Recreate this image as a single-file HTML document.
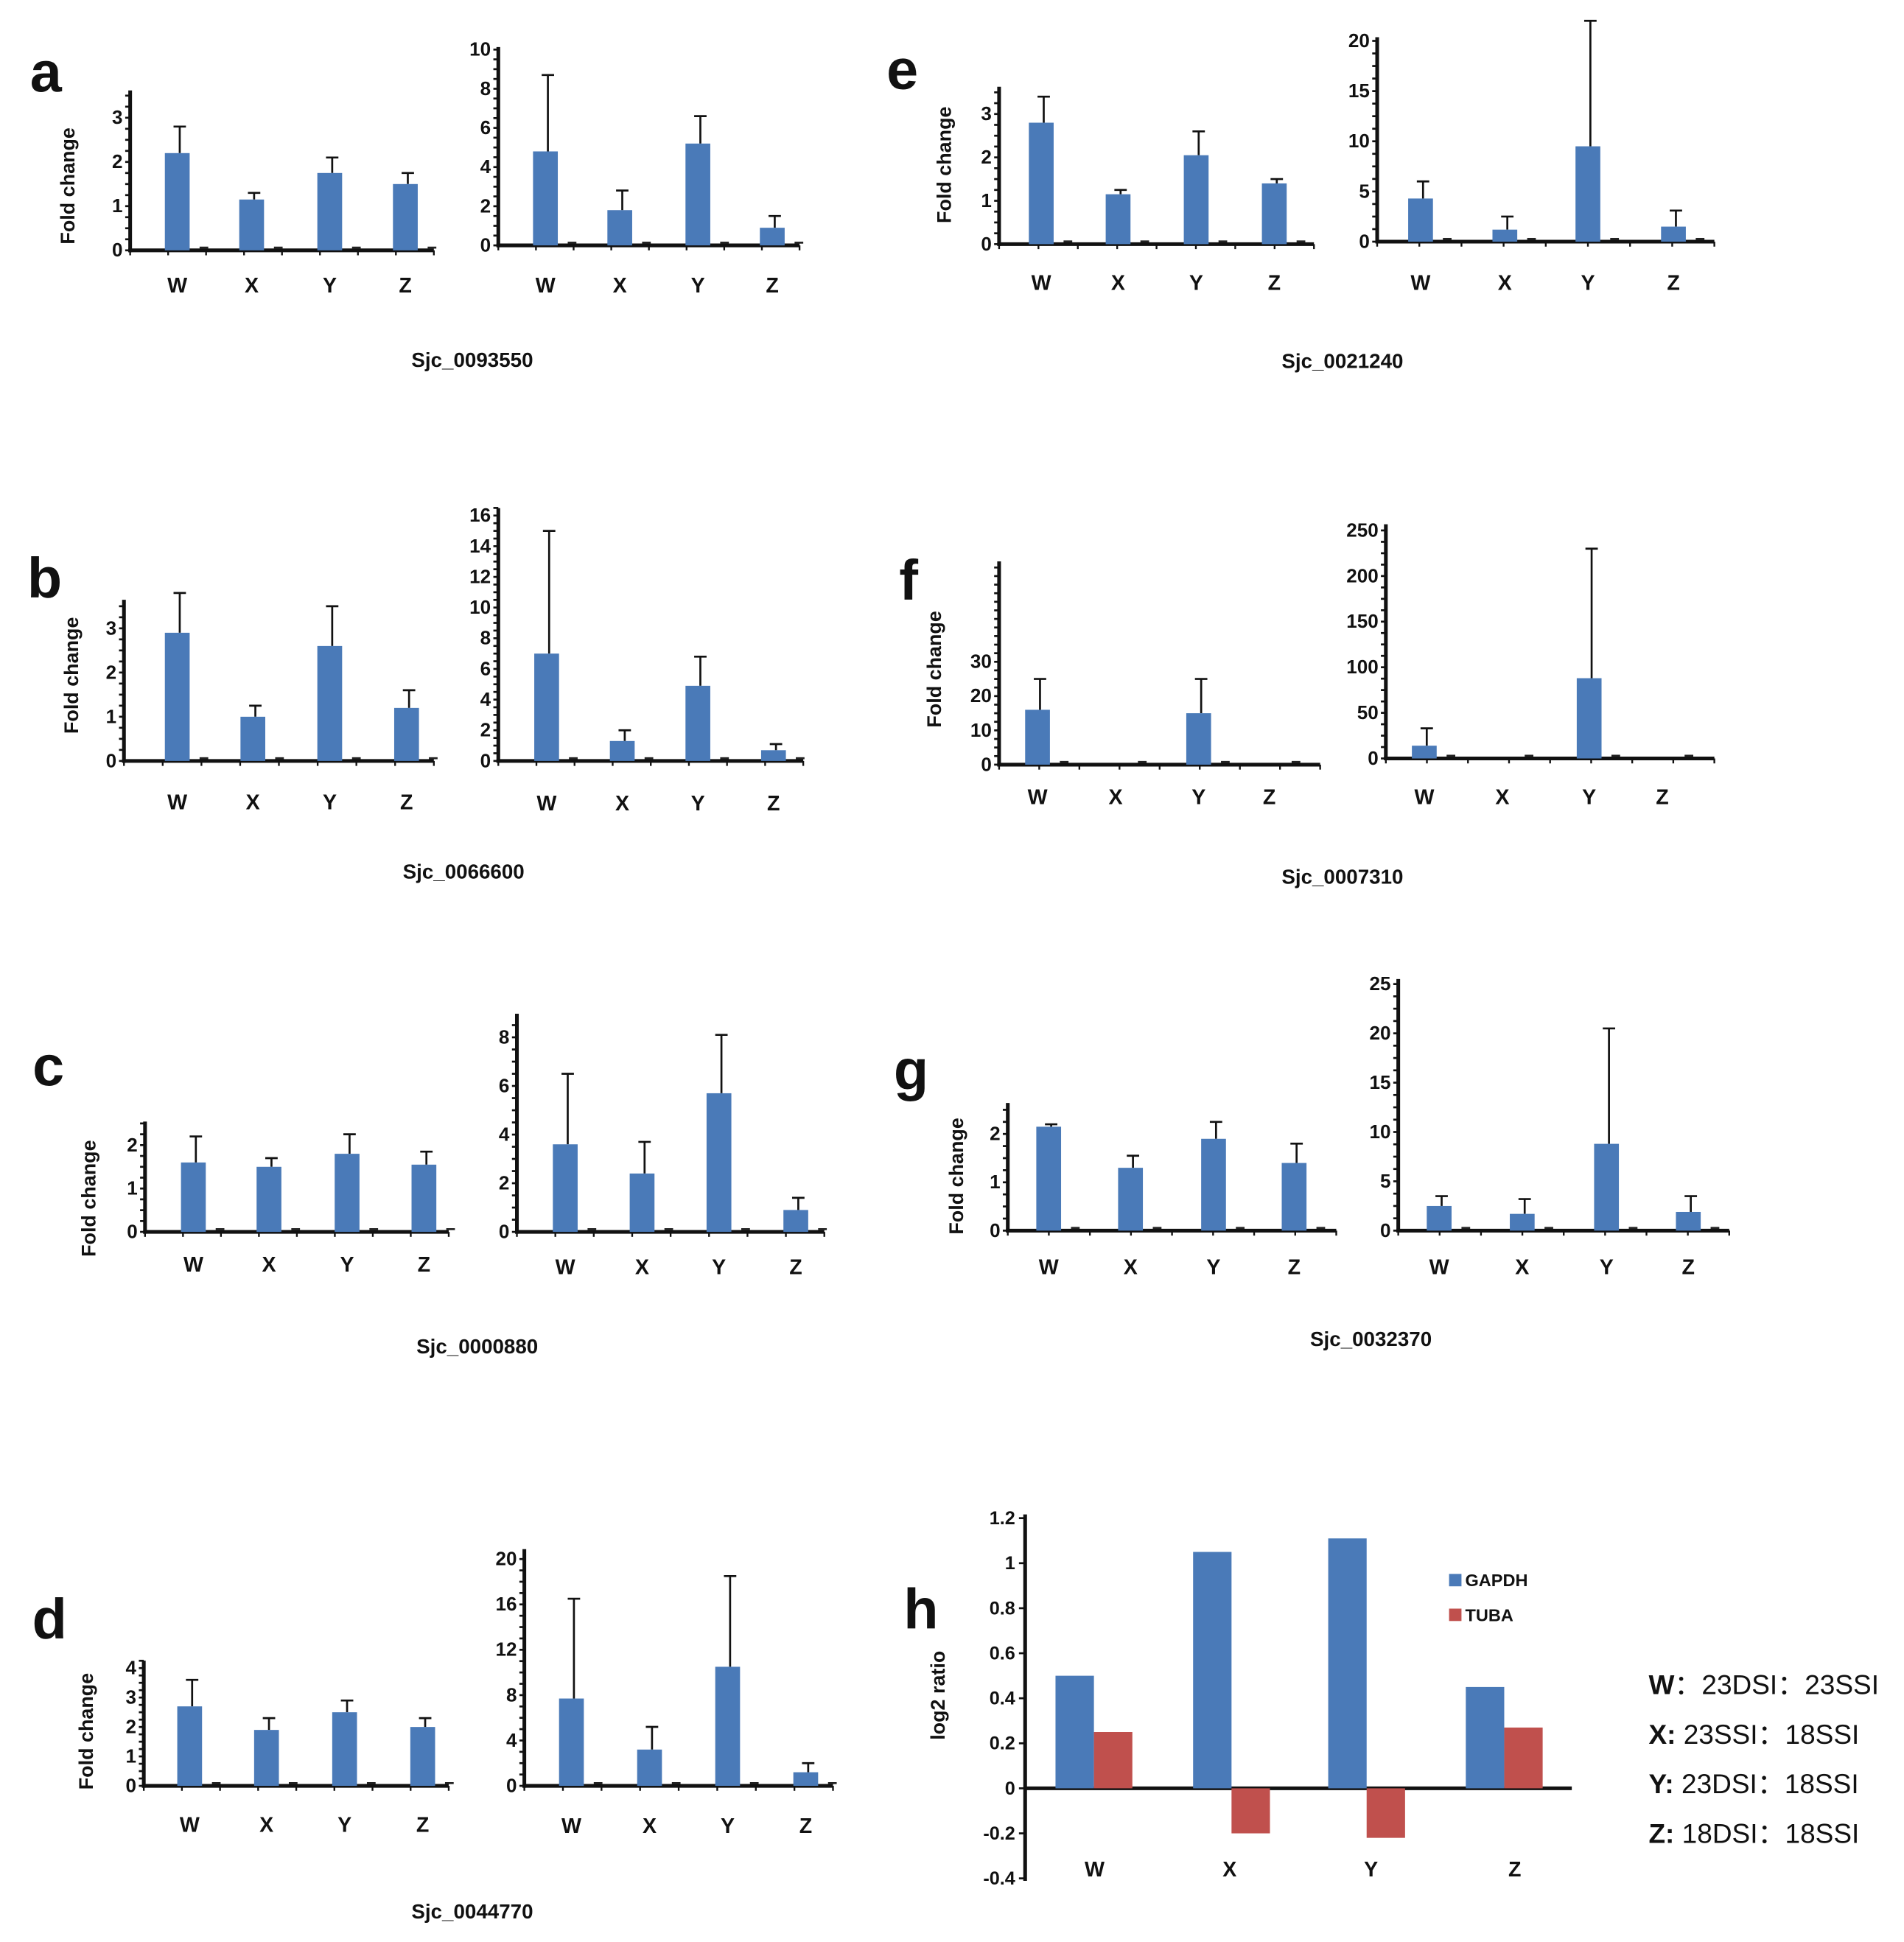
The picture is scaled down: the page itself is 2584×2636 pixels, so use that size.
<!DOCTYPE html>
<html><head><meta charset="utf-8"><style>
html,body{margin:0;padding:0;background:#fff}
svg{display:block}
text{font-family:"Liberation Sans",Arial,sans-serif;fill:#111}
</style></head><body>
<svg id="fig" width="2584" height="2636" viewBox="0 0 1536 1567" preserveAspectRatio="none" xmlns="http://www.w3.org/2000/svg"></svg>
<script>
const categories = ["W","X","Y","Z"];
const aLVals=[2.2,1.15,1.75,1.5], aLErr=[2.8,1.3,2.1,1.75];
const aRVals=[4.8,1.8,5.2,0.9], aRErr=[8.7,2.8,6.6,1.5];
const bLVals=[2.9,1.0,2.6,1.2], bLErr=[3.8,1.25,3.5,1.6];
const bRVals=[7.0,1.3,4.9,0.7], bRErr=[15,2.0,6.8,1.1];
const cLVals=[1.6,1.5,1.8,1.55], cLErr=[2.2,1.7,2.25,1.85];
const cRVals=[3.6,2.4,5.7,0.9], cRErr=[6.5,3.7,8.1,1.4];
const dLVals=[2.7,1.9,2.5,2.0], dLErr=[3.6,2.3,2.9,2.3];
const dRVals=[7.7,3.2,10.5,1.2], dRErr=[16.5,5.2,18.5,2.0];
const eLVals=[2.8,1.15,2.05,1.4], eLErr=[3.4,1.25,2.6,1.5];
const eRVals=[4.3,1.2,9.5,1.5], eRErr=[6.0,2.5,22,3.1];
const fLVals=[16,0,15,0], fLErr=[25,0,25,0];
const fRVals=[14,0,88,0], fRErr=[33,0,230,0];
const gLVals=[2.15,1.3,1.9,1.4], gLErr=[2.2,1.55,2.25,1.8];
const gRVals=[2.5,1.7,8.8,1.9], gRErr=[3.5,3.2,20.5,3.5];
const aLTicks=[0,1,2,3], aRTicks=[0,2,4,6,8,10];
const bLTicks=[0,1,2,3], bRTicks=[0,2,4,6,8,10,12,14,16];
const cLTicks=[0,1,2], cRTicks=[0,2,4,6,8];
const dLTicks=[0,1,2,3,4], dRTicks=[0,4,8,12,16,20];
const eLTicks=[0,1,2,3], eRTicks=[0,5,10,15,20];
const fLTicks=[0,10,20,30], fRTicks=[0,50,100,150,200,250];
const gLTicks=[0,1,2], gRTicks=[0,5,10,15,20,25];
const hGapdh=[0.5,1.05,1.11,0.45];
const hTuba=[0.25,-0.2,-0.22,0.27];
const hTicks=[-0.4,-0.2,0,0.2,0.4,0.6,0.8,1,1.2];
const hTickLabels=["-0.4","-0.2","0","0.2","0.4","0.6","0.8","1","1.2"];

const NS="http://www.w3.org/2000/svg";
const svg=document.getElementById('fig');
function mk(tag,attrs,parent,txt){const e=document.createElementNS(NS,tag);for(const k in attrs)e.setAttribute(k,attrs[k]);if(txt!==undefined)e.textContent=txt;(parent||svg).appendChild(e);return e;}

function panel(p){
  const g=mk('g',{});
  
  
  const ys=v=>p.base-(p.base-p.refY)*v/p.refV;
  const ya=mk('line',{x1:p.ax,y1:p.top,x2:p.ax,y2:p.base+1.5,stroke:'#111','stroke-width':3},g);
  
  
  const xa=mk('line',{x1:p.ax-1.5,y1:p.base,x2:p.xend,y2:p.base,stroke:'#111','stroke-width':3},g);
  
  
  const step=p.ticks[1]-p.ticks[0];
  for(let v=0;ys(v)>=p.top-0.5;v+=step/(p.minor||4)){
    mk('line',{x1:p.ax-4,y1:ys(v),x2:p.ax,y2:ys(v),stroke:'#111','stroke-width':1.6},g);
  }
  p.ticks.forEach(t=>{
    const tl=mk('text',{x:p.ax-6,y:ys(t)+5,'text-anchor':'end','font-size':15.5,'font-weight':'bold'},g,String(t));
    
    
  });
  for(let i=0;i<=8;i++){const x=p.ax+(p.xend-p.ax)*i/8;mk('line',{x1:x,y1:p.base,x2:x,y2:p.base+4,stroke:'#111','stroke-width':1.4},g);}
  const bw=20;
  categories.forEach((c,i)=>{
    const cx=p.cx[i];
    const v=p.vals[i], e=p.errs[i];
    if(e>v){
      const el=mk('line',{x1:cx+2,y1:ys(e),x2:cx+2,y2:ys(v),stroke:'#111','stroke-width':1.6},g);
      
      
      mk('line',{x1:cx-3,y1:ys(e),x2:cx+7,y2:ys(e),stroke:'#111','stroke-width':1.6},g);
    }
    const h=Math.max(0,p.base-ys(v));
    const r=mk('rect',{x:cx-bw/2,y:p.base-h,width:bw,height:h,fill:'#4a7ab8'},g);
    
    
    mk('rect',{x:cx+18,y:p.base-3,width:7,height:1.6,fill:'#222'},g);
    const lt=mk('text',{x:cx,y:p.labelY+6,'text-anchor':'middle','font-size':17,'font-weight':'bold'},g,c);
    
    
  });
}
function label(txt,x,y,size,name,rot){
  const t=mk('text',{x:x,y:y,'text-anchor':'middle','font-size':size,'font-weight':'bold'},svg,txt);
  if(rot)t.setAttribute('transform',`rotate(-90 ${x} ${y})`);
  
  
}
panel({name:'panel-a-left',ax:105,base:202,refY:95,refV:3,top:73,xend:350,cx:[143,203,266,327],labelY:230,vals:aLVals,errs:aLErr,ticks:aLTicks});
panel({name:'panel-a-right',ax:402,base:198,refY:40,refV:10,top:38,xend:645,cx:[440,500,563,623],labelY:230,vals:aRVals,errs:aRErr,ticks:aRTicks});
panel({name:'panel-b-left',ax:100,base:614,refY:507,refV:3,top:484,xend:350,cx:[143,204,266,328],labelY:647,vals:bLVals,errs:bLErr,ticks:bLTicks});
panel({name:'panel-b-right',ax:402,base:614,refY:416,refV:16,top:410,xend:648,cx:[441,502,563,624],labelY:648,vals:bRVals,errs:bRErr,ticks:bRTicks});
panel({name:'panel-c-left',ax:117,base:994,refY:924,refV:2,top:905,xend:362,cx:[156,217,280,342],labelY:1020,vals:cLVals,errs:cLErr,ticks:cLTicks});
panel({name:'panel-c-right',ax:417,base:994,refY:837,refV:8,top:818,xend:665,cx:[456,518,580,642],labelY:1022,vals:cRVals,errs:cRErr,ticks:cRTicks});
panel({name:'panel-d-left',ax:116,base:1441,refY:1346,refV:4,top:1340,xend:362,cx:[153,215,278,341],labelY:1472,vals:dLVals,errs:dLErr,ticks:dLTicks});
panel({name:'panel-d-right',ax:423,base:1441,refY:1258,refV:20,top:1250,xend:672,cx:[461,524,587,650],labelY:1473,vals:dRVals,errs:dRErr,ticks:dRTicks});
panel({name:'panel-e-left',ax:806,base:197,refY:92,refV:3,top:70,xend:1060,cx:[840,902,965,1028],labelY:228,vals:eLVals,errs:eLErr,ticks:eLTicks});
panel({name:'panel-e-right',ax:1111,base:195,refY:33,refV:20,top:30,xend:1383,cx:[1146,1214,1281,1350],labelY:228,vals:eRVals,errs:eRErr,ticks:eRTicks});
panel({name:'panel-f-left',ax:806,base:617,refY:534,refV:30,top:453,xend:1065,cx:[837,900,967,1024],labelY:643,vals:fLVals,errs:fLErr,ticks:fLTicks});
panel({name:'panel-f-right',ax:1118,base:612,refY:428,refV:250,top:423,xend:1383,cx:[1149,1212,1282,1341],labelY:643,vals:fRVals,errs:fRErr,ticks:fRTicks});
panel({name:'panel-g-left',ax:813,base:993,refY:915,refV:2,top:890,xend:1078,cx:[846,912,979,1044],labelY:1022,vals:gLVals,errs:gLErr,ticks:gLTicks});
panel({name:'panel-g-right',ax:1128,base:993,refY:794,refV:25,top:790,xend:1395,cx:[1161,1228,1296,1362],labelY:1022,vals:gRVals,errs:gRErr,ticks:gRTicks});

label('Sjc_0093550',381,296,16.5,'gene-title-a');
label('Sjc_0066600',374,709,16.5,'gene-title-b');
label('Sjc_0000880',385,1092,16.5,'gene-title-c');
label('Sjc_0044770',381,1548,16.5,'gene-title-d');
label('Sjc_0021240',1083,297,16.5,'gene-title-e');
label('Sjc_0007310',1083,713,16.5,'gene-title-f');
label('Sjc_0032370',1106,1086,16.5,'gene-title-g');
[['a',37,60],['b',36,468],['c',39,862],['d',40,1308],['e',728,58],['f',733,470],['g',735,865],['h',743,1300]].forEach(l=>label(l[0],l[1],l[2]+14,46,'panel-letter-'+l[0]));
[[60,150],[63,545],[77,967],[75,1397],[767,133],[759,540],[777,949]].forEach(p=>label('Fold change',p[0],p[1],16,'y-axis-title',true));

(function(){
  const ax=827, zeroY=1443, per=(1443-1225)/1.2, xend=1268;
  const ys=v=>zeroY-v*per;
  const g=mk('g',{});
  
  
  const ya=mk('line',{x1:ax,y1:ys(1.2)-3,x2:ax,y2:ys(-0.4)+2,stroke:'#111','stroke-width':3},g);
  
  
  const xa=mk('line',{x1:ax,y1:zeroY,x2:xend,y2:zeroY,stroke:'#111','stroke-width':3},g);
  
  
  hTicks.forEach((t,i)=>{
    mk('line',{x1:ax-5,y1:ys(t),x2:ax,y2:ys(t),stroke:'#111','stroke-width':1.6},g);
    const tl=mk('text',{x:ax-8,y:ys(t)+5,'text-anchor':'end','font-size':15,'font-weight':'bold'},g,hTickLabels[i]);
    
    
  });
  const gx=[867,978,1087,1198], bw=31;
  categories.forEach((c,i)=>{
    const v1=hGapdh[i], v2=hTuba[i];
    const r1=mk('rect',{x:gx[i]-bw/2,y:Math.min(ys(v1),zeroY),width:bw,height:Math.abs(v1*per),fill:'#4a7ab8'},g);
    
    
    const r2=mk('rect',{x:gx[i]+bw/2,y:Math.min(ys(v2),zeroY),width:bw,height:Math.abs(v2*per),fill:'#c0504d'},g);
    
    
    const lt=mk('text',{x:[883,992,1106,1222][i],y:1514,'text-anchor':'middle','font-size':17,'font-weight':'bold'},g,c);
    
    
  });
  const l1=mk('g',{},g);
  
  
  mk('rect',{x:1169,y:1270,width:10,height:10,fill:'#4a7ab8'},l1);
  mk('text',{x:1182,y:1280,'font-size':14,'font-weight':'bold'},l1,'GAPDH');
  const l2=mk('g',{},g);
  
  
  mk('rect',{x:1169,y:1298,width:10,height:10,fill:'#c0504d'},l2);
  mk('text',{x:1182,y:1308,'font-size':14,'font-weight':'bold'},l2,'TUBA');
})();
label('log2 ratio',762,1368,16,'y-axis-title-h',true);
[['W','：23DSI：23SSI',1367],['X:',' 23SSI：18SSI',1407],['Y:',' 23DSI：18SSI',1447],['Z:',' 18DSI：18SSI',1487]].forEach(r=>{
  const t=mk('text',{x:1330,y:r[2],'font-size':22,style:'font-family:"Liberation Sans","Noto Sans CJK SC",sans-serif'},svg);
  
  
  mk('tspan',{'font-weight':'bold'},t,r[0]);
  mk('tspan',{},t,r[1]);
});
</script>
</body></html>
